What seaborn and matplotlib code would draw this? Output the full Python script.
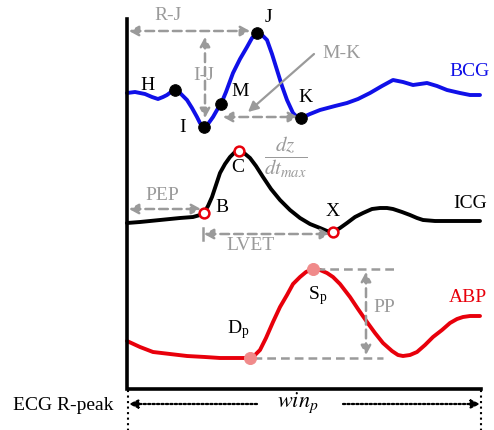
import numpy as np
import pandas as pd
import matplotlib
matplotlib.use('Agg')
import matplotlib.pyplot as plt
import seaborn as sns

# waveform traces (pixel coordinates, y downwards)
bcg_x = [127, 135, 145, 152, 158, 163, 167, 171, 175, 180, 187, 192, 197, 200, 204, 208, 213, 217, 221,
         226, 233, 240, 247, 252, 257, 262, 267, 272, 277, 282, 287, 293, 297, 301, 310, 320, 335, 347,
         358, 370, 382, 393, 403, 413, 420, 427, 437, 447, 460, 470, 480]
bcg_y = [93, 92, 94, 97, 99, 97, 95, 92, 90, 93, 100, 108, 117, 123, 127, 124, 117, 110, 104,
         92, 73, 59, 47, 38, 33, 35, 40, 54, 70, 86, 100, 113, 117, 118, 114, 110, 106, 103,
         99, 93, 86, 80, 82, 85, 84, 83, 86, 90, 93, 95, 95]

icg_x = [127, 140, 160, 180, 193, 200, 204, 208, 212, 216, 220, 225, 230, 235, 239, 244, 250, 256, 263,
         271, 280, 290, 300, 310, 320, 327, 333, 340, 347, 355, 363, 372, 380, 387, 393, 402, 410, 417,
         423, 435, 447, 460, 480]
icg_y = [223, 222, 220, 218, 217, 215, 213, 206, 197, 185, 173, 164, 157, 152, 151, 153, 158, 166, 177,
         189, 200, 210, 218, 224, 228, 231, 232, 228, 223, 217, 213, 209, 208, 208, 209, 212, 215, 218,
         220, 221, 221, 221, 221]

abp_x = [127, 140, 153, 170, 187, 205, 220, 235, 250, 255, 260, 266, 273, 280, 287, 293, 300, 306, 313,
         320, 327, 333, 340, 350, 358, 367, 375, 383, 392, 398, 403, 410, 417, 425, 433, 442, 450, 457,
         463, 470, 480]
abp_y = [341, 347, 352, 354, 356, 357, 358, 358, 358, 355, 350, 338, 322, 307, 295, 284, 277, 272, 269,
         270, 273, 277, 284, 297, 309, 322, 333, 343, 351, 355, 356, 355, 352, 345, 337, 330, 323, 319,
         317, 316, 316]

# fiducial points
bcg_pts_x = [175, 204, 221, 257, 301]   # H, I, M, J, K
bcg_pts_y = [90, 127, 104, 33, 118]
icg_pts_x = [204, 239, 333]             # B, C, X
icg_pts_y = [213, 151, 232]
abp_pts_x = [250, 313]                  # Dp, Sp
abp_pts_y = [358, 269]

blue = '#1010e8'
red = '#e8000b'
gray = '#9a9a9a'

plt.rcParams['font.family'] = ['Liberation Serif', 'DejaVu Serif']
plt.rcParams['mathtext.fontset'] = 'stix'

fig = plt.figure(figsize=(4.94, 4.30), dpi=100)
ax = fig.add_axes([0, 0, 1, 1])
ax.set_xlim(0, 494)
ax.set_ylim(430, 0)
ax.axis('off')

# L-shaped frame
ax.plot([127, 127, 481], [19, 389, 389], color='black', lw=2.6, solid_joinstyle='miter', zorder=3)
ax.plot([128, 128], [390, 430], color='black', lw=1.5, ls=':')
ax.plot([481, 481], [390, 430], color='black', lw=1.5, ls=':')

# curves
line_kw = dict(sort=False, estimator=None, lw=2.8, solid_joinstyle='round', solid_capstyle='round', ax=ax)
sns.lineplot(x=bcg_x, y=bcg_y, color=blue, **line_kw)
sns.lineplot(x=icg_x, y=icg_y, color='black', **line_kw)
sns.lineplot(x=abp_x, y=abp_y, color=red, **line_kw)


def darrow(x0, y0, x1, y1, style='<|-|>'):
    ax.annotate('', xy=(x1, y1), xytext=(x0, y0),
                arrowprops=dict(arrowstyle=style + ',head_length=0.55,head_width=0.3', color=gray,
                                lw=1.8, ls=(0, (3.5, 2)), shrinkA=0, shrinkB=0), zorder=2)


# interval arrows
darrow(129, 31, 250, 31)     # R-J
darrow(205, 37, 205, 118)    # I-J
darrow(223, 117, 298, 117)   # M-K
darrow(129, 209, 201, 209)   # PEP
darrow(204, 234, 330, 234)   # LVET
ax.plot([203, 203], [228, 240], color=gray, lw=1.8)
darrow(366, 272, 366, 355)   # PP
ax.plot([316, 398], [269, 269], color=gray, lw=1.8, ls=(0, (3.5, 2)))
ax.plot([253, 383], [358, 358], color=gray, lw=1.8, ls=(0, (3.5, 2)))
ax.annotate('', xy=(248, 112), xytext=(314, 54),
            arrowprops=dict(arrowstyle='-|>,head_length=0.6,head_width=0.3', color=gray, lw=1.6,
                            shrinkA=0, shrinkB=0))

# window arrows at the bottom
ax.annotate('', xy=(129, 404), xytext=(257, 404),
            arrowprops=dict(arrowstyle='-|>,head_length=0.5,head_width=0.25', color='black', lw=1.6,
                            ls=(0, (1, 1)), shrinkA=0, shrinkB=0))
ax.annotate('', xy=(480, 404), xytext=(343, 404),
            arrowprops=dict(arrowstyle='-|>,head_length=0.5,head_width=0.25', color='black', lw=1.6,
                            ls=(0, (1, 1)), shrinkA=0, shrinkB=0))

# fiducial markers
sns.scatterplot(x=bcg_pts_x, y=bcg_pts_y, color='black', s=70, edgecolor='black', zorder=5, ax=ax)
sns.scatterplot(x=icg_pts_x, y=icg_pts_y, color='white', s=50, edgecolor=red, linewidth=1.8,
                zorder=5, ax=ax)
sns.scatterplot(x=abp_pts_x, y=abp_pts_y, color='#f08a8a', s=75, edgecolor='#f08a8a', zorder=5, ax=ax)

fs = 14
kw = dict(ha='center', va='center', fontsize=fs)
# BCG labels
ax.text(148, 86, 'H', **kw)
ax.text(183, 127, 'I', **kw)
ax.text(240, 92, 'M', **kw)
ax.text(268, 18, 'J', **kw)
ax.text(305, 98, 'K', **kw)
ax.text(168, 15, 'R-J', color=gray, **kw)
ax.text(204, 76, 'I-J', color=gray, **kw)
ax.text(342, 53, 'M-K', color=gray, **kw)
ax.text(470, 72, 'BCG', color=blue, **kw)
# ICG labels
ax.text(222, 207, 'B', **kw)
ax.text(238, 168, 'C', **kw)
ax.text(286, 157, r'$\dfrac{dz}{dt_{max}}$', color=gray, ha='center', va='center', fontsize=15)
ax.text(333, 212, 'X', **kw)
ax.text(162, 196, 'PEP', color=gray, **kw)
ax.text(251, 246, 'LVET', color=gray, **kw)
ax.text(470, 203, 'ICG', **kw)
# ABP labels
ax.text(238, 330, r'D$_\mathregular{p}$', **kw)
ax.text(318, 296, r'S$_\mathregular{p}$', **kw)
ax.text(384, 307, 'PP', color=gray, **kw)
ax.text(468, 298, 'ABP', color=red, **kw)
# bottom
ax.text(63, 405, 'ECG R-peak', **kw)
ax.text(298, 403, r'$win_p$', ha='center', va='center', fontsize=16)

fig.savefig('out.png', dpi=100)
